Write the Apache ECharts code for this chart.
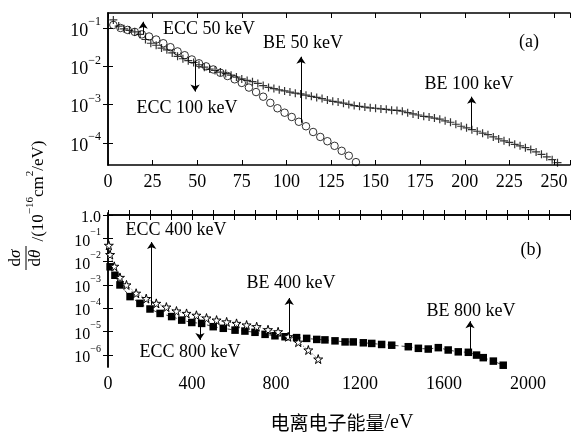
<!DOCTYPE html>
<html lang="zh">
<head>
<meta charset="UTF-8">
<title>电离电子能谱</title>
<script src="https://cdn.jsdelivr.net/npm/echarts@6.0.0/dist/echarts.min.js"></script>
<style>
  html, body { margin: 0; padding: 0; background: #fff; }
  #main { width: 573px; height: 434px; }
</style>
</head>
<body>
<div id="main"></div>
<script>
// (a) 上图: + 号与空心圆两组数据 (能量 eV, 截面值)
var plusX = [3,6,9,12,15,18,21,24,27,30,33,36,39,42,45,48,51,54,57,60,63,66,69,72,75,78,81,84,87,90,93,96,99,102,105,108,111,114,117,120,123,126,129,132,135,138,141,144,147,150,153,156,159,162,165,168,171,174,177,180,183,186,189,192,195,198,201,204,207,210,213,216,219,222,225,228,231,234,237,240,243,246,249,252];
var plusY = [1.62e-1,1.12e-1,9.5e-2,8.7e-2,7.9e-2,6.8e-2,5.0e-2,4.0e-2,3.55e-2,3.0e-2,
             2.7e-2,2.24e-2,1.82e-2,1.58e-2,1.41e-2,1.26e-2,1.10e-2,9.5e-3,8.5e-3,7.8e-3,
             7.1e-3,6.5e-3,5.9e-3,5.25e-3,4.7e-3,4.3e-3,4.0e-3,3.6e-3,3.16e-3,2.82e-3,
             2.63e-3,2.45e-3,2.29e-3,2.14e-3,2.0e-3,1.91e-3,1.78e-3,1.66e-3,1.55e-3,1.45e-3,
             1.32e-3,1.23e-3,1.17e-3,1.10e-3,1.02e-3,9.5e-4,9.1e-4,8.7e-4,8.3e-4,8.1e-4,
             7.8e-4,7.6e-4,7.2e-4,7.1e-4,6.8e-4,6.2e-4,5.75e-4,5.4e-4,5.0e-4,4.8e-4,
             4.5e-4,4.2e-4,3.8e-4,3.5e-4,3.1e-4,2.75e-4,2.5e-4,2.24e-4,2.04e-4,1.82e-4,
             1.66e-4,1.45e-4,1.29e-4,1.15e-4,1.05e-4,9.3e-5,8.5e-5,7.6e-5,6.8e-5,5.9e-5,
             5.1e-5,4.4e-5,3.7e-5,3.1e-5];
var circleX = [3,7,11,15,19,23,27,31,35,39,43,47,51,55,59,63,67,71,75,79,83,87,91,95,99,103,107,111,115,119,123,127,131,135,139];
var circleY = [1.2e-1,1.0e-1,8.9e-2,7.9e-2,6.8e-2,6.0e-2,5.0e-2,4.0e-2,3.16e-2,2.45e-2,
               1.95e-2,1.51e-2,1.2e-2,1.0e-2,8.3e-3,6.8e-3,5.6e-3,4.6e-3,3.7e-3,2.8e-3,
               2.14e-3,1.62e-3,1.12e-3,8.1e-4,6.2e-4,4.8e-4,3.6e-4,2.75e-4,1.95e-4,1.45e-4,
               1.12e-4,8.5e-5,6.3e-5,4.7e-5,3.2e-5];

// (b) 下图: 空心星与实心方块
var starX = [4,10,30,57,88,134,182,230,278,326,374,421,469,517,565,612,660,708,762,810,858,906,954,1001];
var starY = [5.0e-2,2.0e-2,6.3e-3,2.1e-3,1.0e-3,4.4e-4,2.6e-4,1.62e-4,1.12e-4,7.6e-5,6.0e-5,5.0e-5,
             3.8e-5,3.1e-5,2.6e-5,2.24e-5,1.91e-5,1.62e-5,1.2e-5,9.8e-6,6.0e-6,3.5e-6,1.62e-6,6.6e-7];
var squareX = [10,33,57,105,152,200,248,303,351,399,446,501,549,605,652,700,748,795,843,898,946,994,1033,1081,1129,1168,1216,1256,1303,1351,1430,1478,1525,1573,1620,1668,1716,1755,1787,1835,1882];
var squareY = [6.0e-3,2.6e-3,1.0e-3,3.16e-4,1.62e-4,9.3e-5,6.0e-5,4.4e-5,3.1e-5,2.45e-5,
               2.24e-5,1.62e-5,1.38e-5,1.15e-5,1.05e-5,9.3e-6,7.6e-6,6.6e-6,6.0e-6,5.5e-6,
               5.1e-6,4.6e-6,4.4e-6,4.0e-6,3.6e-6,3.6e-6,3.3e-6,3.1e-6,2.8e-6,2.6e-6,
               2.24e-6,1.91e-6,1.78e-6,2.04e-6,1.62e-6,1.35e-6,1.29e-6,9.8e-7,7.6e-7,5.4e-7,3.6e-7];

// 刻度
var xTicksA = [0,25,50,75,100,125,150,175,200,225,250];
var yExpA = [-1,-2,-3,-4];
var xTicksB = [0,400,800,1200,1600,2000];
var yExpB = [0,-1,-2,-3,-4,-5,-6];

// 箭头标注: [x, 起点值, 终点值]
var arrowsA = [[19.7,6.9e-2,1.45e-1],[48.8,1.38e-2,2.2e-3],[108.2,3.4e-4,1.78e-2],[203.9,2.24e-4,1.62e-3]];
var arrowsB = [[208,1.38e-4,6.9e-2],[438,3.1e-5,4.4e-6],[863,5.2e-6,2.75e-4],[1724,1.35e-6,2.8e-5]];

var SERIF = 'Liberation Serif';

function lg(v) { return Math.log10(v); }
function pairs(xs, ys) { return xs.map(function (x, i) { return [x, lg(ys[i])]; }); }
function arrowLines(arr) {
    return arr.map(function (a) {
        return [{coord: [a[0], lg(a[1])]}, {coord: [a[0], lg(a[2])]}];
    });
}
function powLabel(v) {
    if (v === 0) return '{b|1.0}';
    return '{b|10}{s|\u2212' + (-v) + '}';
}
function richPow(size) {
    return {
        b: {fontFamily: SERIF, fontSize: size, lineHeight: size + 6, verticalAlign: 'bottom', color: '#000'},
        s: {fontFamily: SERIF, fontSize: Math.round(size * 0.65), lineHeight: Math.round(size * 0.65), verticalAlign: 'top', color: '#000'}
    };
}

var axisLineStyle = {show: true, lineStyle: {color: '#000', width: 1.5}};

function xAxisPair(gridIndex, max, interval, ticks) {
    var common = {
        type: 'value', gridIndex: gridIndex, min: 0, max: max, interval: interval,
        axisLine: axisLineStyle, splitLine: {show: false},
        axisTick: {show: true, inside: true, length: 5, lineStyle: {color: '#000', width: 1}}
    };
    var bottom = Object.assign({}, common, {
        position: 'bottom',
        axisLabel: {
            customValues: ticks, fontFamily: SERIF, fontSize: 18, color: '#000', margin: 8,
            formatter: function (v) { return String(v); }
        }
    });
    var top = Object.assign({}, common, {position: 'top', axisLabel: {show: false}});
    return [bottom, top];
}
function yAxisPair(gridIndex, min, max, ticks, size) {
    var common = {
        type: 'value', gridIndex: gridIndex, min: min, max: max,
        axisLine: axisLineStyle, splitLine: {show: false},
        axisTick: {show: true, inside: true, length: 5, customValues: ticks, lineStyle: {color: '#000', width: 1}}
    };
    var left = Object.assign({}, common, {
        position: 'left',
        axisLabel: {customValues: ticks, formatter: powLabel, rich: richPow(size), margin: 7}
    });
    var right = Object.assign({}, common, {position: 'right', axisLabel: {show: false}});
    return [left, right];
}

var xa = xAxisPair(0, 259, 25, xTicksA);
var xb = xAxisPair(1, 2200, 100, xTicksB);
var ya = yAxisPair(0, -4.57, -0.61, yExpA, 18);
var yb = yAxisPair(1, -6.52, 0.086, yExpB, 16);

var markArrows = function (arr) {
    return {
        silent: true, animation: false,
        symbol: ['none', 'arrow'], symbolSize: 7,
        lineStyle: {color: '#000', width: 1, type: 'solid'},
        label: {show: false}, emphasis: {disabled: true},
        data: arrowLines(arr)
    };
};

// 标注文字 (像素位置)
var notes = [
    {t: 'ECC 50 keV', x: 209, y: 29},
    {t: 'ECC 100 keV', x: 187, y: 108},
    {t: 'BE 50 keV', x: 303, y: 43},
    {t: 'BE 100 keV', x: 469, y: 84},
    {t: '(a)', x: 529, y: 42},
    {t: 'ECC 400 keV', x: 176, y: 230},
    {t: 'ECC 800 keV', x: 190, y: 352},
    {t: 'BE 400 keV', x: 291, y: 283},
    {t: 'BE 800 keV', x: 471, y: 311},
    {t: '(b)', x: 531, y: 250}
];
var graphics = notes.map(function (n) {
    return {
        type: 'text', x: n.x, y: n.y, silent: true,
        style: {text: n.t, fontFamily: SERIF, fontSize: 18, fill: '#000', textAlign: 'center', textVerticalAlign: 'middle'}
    };
});
// 纵轴标题
var fracRich = {
    d: {fontFamily: SERIF, fontSize: 17, fill: '#000'},
    g: {fontFamily: SERIF, fontSize: 17, fontStyle: 'italic', fill: '#000'}
};
graphics.push(
    {type: 'text', x: 16, y: 258, rotation: Math.PI / 2, silent: true,
     style: {text: '{d|d}{g|σ}', rich: fracRich, textAlign: 'center', textVerticalAlign: 'middle'}},
    {type: 'line', silent: true, shape: {x1: 26, y1: 246, x2: 26, y2: 270}, style: {stroke: '#000', lineWidth: 1}},
    {type: 'text', x: 36, y: 258, rotation: Math.PI / 2, silent: true,
     style: {text: '{d|d}{g|θ}', rich: fracRich, textAlign: 'center', textVerticalAlign: 'middle'}},
    {type: 'text', x: 36, y: 191, rotation: Math.PI / 2, silent: true,
     style: {
         text: '{n|/(10}{s|\u221216}{n|cm}{s|2}{n|/eV)}',
         textAlign: 'center', textVerticalAlign: 'middle',
         rich: {
             n: {fontFamily: SERIF, fontSize: 17, lineHeight: 22, verticalAlign: 'bottom', fill: '#000'},
             s: {fontFamily: SERIF, fontSize: 11, lineHeight: 11, verticalAlign: 'top', fill: '#000'}
         }
     }},
    // 横轴标题
    {type: 'text', x: 342, y: 423, silent: true,
     style: {
         text: '{c|电离电子能量}{e|/eV}', textAlign: 'center', textVerticalAlign: 'middle',
         rich: {
             c: {fontFamily: 'Noto Sans CJK SC', fontSize: 19, fill: '#000'},
             e: {fontFamily: SERIF, fontSize: 20, fill: '#000'}
         }
     }}
);

var starPath = 'path://M50,0 L61,35 L98,35 L68,57 L79,91 L50,70 L21,91 L32,57 L2,35 L39,35 Z';
var plusPath = 'path://M0,5 L10,5 M5,0 L5,10';

var myChart = echarts.init(document.getElementById('main'));
var option = {
    animation: false,
    backgroundColor: '#fff',
    grid: [
        {left: 108, right: 3, top: 13, height: 152, outerBoundsMode: 'none'},
        {left: 108, right: 3, top: 213, height: 154, outerBoundsMode: 'none'}
    ],
    xAxis: [xa[0], xa[1], xb[0], xb[1]],
    yAxis: [ya[0], ya[1], yb[0], yb[1]],
    series: [
        {
            name: '+', type: 'scatter', xAxisIndex: 0, yAxisIndex: 0,
            data: pairs(plusX, plusY), symbol: plusPath, symbolSize: 8,
            itemStyle: {color: 'rgba(0,0,0,0)', borderColor: '#000', borderWidth: 1.2},
            markLine: markArrows(arrowsA)
        },
        {
            name: 'o', type: 'scatter', xAxisIndex: 0, yAxisIndex: 0,
            data: pairs(circleX, circleY), symbol: 'circle', symbolSize: 7.5,
            itemStyle: {color: 'rgba(0,0,0,0)', borderColor: '#000', borderWidth: 1}
        },
        {
            name: 'square', type: 'line', xAxisIndex: 2, yAxisIndex: 2,
            data: pairs(squareX, squareY), symbol: 'rect', symbolSize: 7.5, showSymbol: true,
            itemStyle: {color: '#000'},
            lineStyle: {color: '#444', width: 1, type: [4, 3]},
            markLine: markArrows(arrowsB)
        },
        {
            name: 'star', type: 'line', xAxisIndex: 2, yAxisIndex: 2,
            data: pairs(starX, starY), symbol: starPath, symbolSize: 9, showSymbol: true,
            itemStyle: {color: '#fff', borderColor: '#000', borderWidth: 1},
            lineStyle: {color: '#444', width: 1, type: [1, 2]}
        }
    ],
    graphic: graphics
};
myChart.setOption(option);
</script>
</body>
</html>
